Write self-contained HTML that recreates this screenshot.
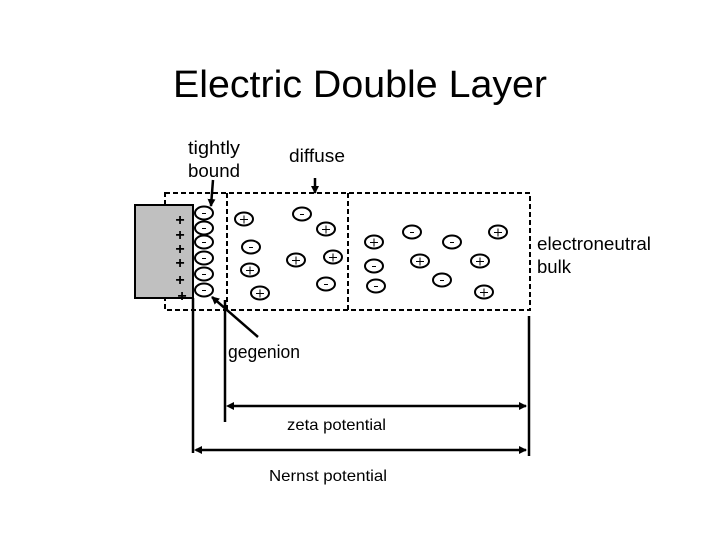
<!DOCTYPE html>
<html><head><style>
body{margin:0;background:#fff;}
svg{display:block;font-family:"Liberation Sans",sans-serif;}
</style></head><body>
<svg width="720" height="540" viewBox="0 0 720 540" xmlns="http://www.w3.org/2000/svg">
<defs>
<marker id="ah" markerWidth="8" markerHeight="8" refX="7" refY="4" orient="auto" markerUnits="userSpaceOnUse"><path d="M0,0 L8,4 L0,8 z" fill="#000"/></marker>
<g id="p"><ellipse rx="9" ry="6.5" fill="#fff" stroke="#000" stroke-width="2"/><path d="M-4,0.5h8M0,-3.5v8" stroke="#000" stroke-width="1"/></g>
<g id="m"><ellipse rx="9" ry="6.5" fill="#fff" stroke="#000" stroke-width="2"/><path d="M-2,0.5h4" stroke="#000" stroke-width="1"/></g>
</defs>
<text x="360" y="97" font-size="38" text-anchor="middle" textLength="374" lengthAdjust="spacingAndGlyphs">Electric Double Layer</text>
<text x="188" y="154" font-size="18" textLength="52" lengthAdjust="spacingAndGlyphs">tightly</text>
<text x="188" y="177" font-size="18" textLength="52" lengthAdjust="spacingAndGlyphs">bound</text>
<text x="289" y="162" font-size="18" textLength="56" lengthAdjust="spacingAndGlyphs">diffuse</text>
<text x="537" y="250" font-size="18" textLength="114" lengthAdjust="spacingAndGlyphs">electroneutral</text>
<text x="537" y="273" font-size="18" textLength="34" lengthAdjust="spacingAndGlyphs">bulk</text>
<text x="228" y="358" font-size="18" textLength="72" lengthAdjust="spacingAndGlyphs">gegenion</text>
<text x="287" y="430" font-size="16" textLength="99" lengthAdjust="spacingAndGlyphs">zeta potential</text>
<text x="269" y="481" font-size="16" textLength="118" lengthAdjust="spacingAndGlyphs">Nernst potential</text>
<g fill="none" stroke="#000" stroke-width="2" stroke-dasharray="5,3">
<rect x="165" y="193" width="365" height="117"/>
<line x1="227" y1="193" x2="227" y2="310"/>
<line x1="348" y1="193" x2="348" y2="310"/>
</g>
<rect x="135" y="205" width="58" height="93" fill="#c0c0c0" stroke="#000" stroke-width="2"/>
<g font-size="16" text-anchor="middle" font-weight="bold">
<text x="180" y="225">+</text><text x="180" y="240">+</text><text x="180" y="254">+</text><text x="180" y="268">+</text><text x="180" y="285">+</text><text x="182" y="301">+</text>
</g>
<g stroke="#000" stroke-width="2.5" fill="none">
<line x1="213" y1="180" x2="211" y2="206" marker-end="url(#ah)"/>
<line x1="315" y1="178" x2="315" y2="193" marker-end="url(#ah)"/>
<line x1="258" y1="337" x2="212" y2="297" marker-end="url(#ah)"/>
<line x1="193" y1="298" x2="193" y2="453"/>
<line x1="225" y1="300" x2="225" y2="422"/>
<line x1="529" y1="316" x2="529" y2="456"/>
<line x1="230" y1="406" x2="526" y2="406" marker-end="url(#ah)"/>
<line x1="196" y1="450" x2="526" y2="450" marker-end="url(#ah)"/>
</g>
<path d="M226,406 l8,-4 v8z M194,450 l8,-4 v8z" fill="#000"/>
<use href="#m" x="204" y="213"/><use href="#m" x="204" y="228"/><use href="#m" x="204" y="242"/><use href="#m" x="204" y="258"/><use href="#m" x="204" y="274"/><use href="#m" x="204" y="290"/>
<use href="#p" x="244" y="219"/><use href="#m" x="302" y="214"/><use href="#p" x="326" y="229"/><use href="#m" x="251" y="247"/><use href="#p" x="296" y="260"/><use href="#p" x="333" y="257"/><use href="#p" x="250" y="270"/><use href="#m" x="326" y="284"/><use href="#p" x="260" y="293"/>
<use href="#p" x="374" y="242"/><use href="#m" x="412" y="232"/><use href="#m" x="452" y="242"/><use href="#p" x="498" y="232"/><use href="#m" x="374" y="266"/><use href="#p" x="420" y="261"/><use href="#p" x="480" y="261"/><use href="#m" x="376" y="286"/><use href="#m" x="442" y="280"/><use href="#p" x="484" y="292"/>
</svg>
</body></html>
